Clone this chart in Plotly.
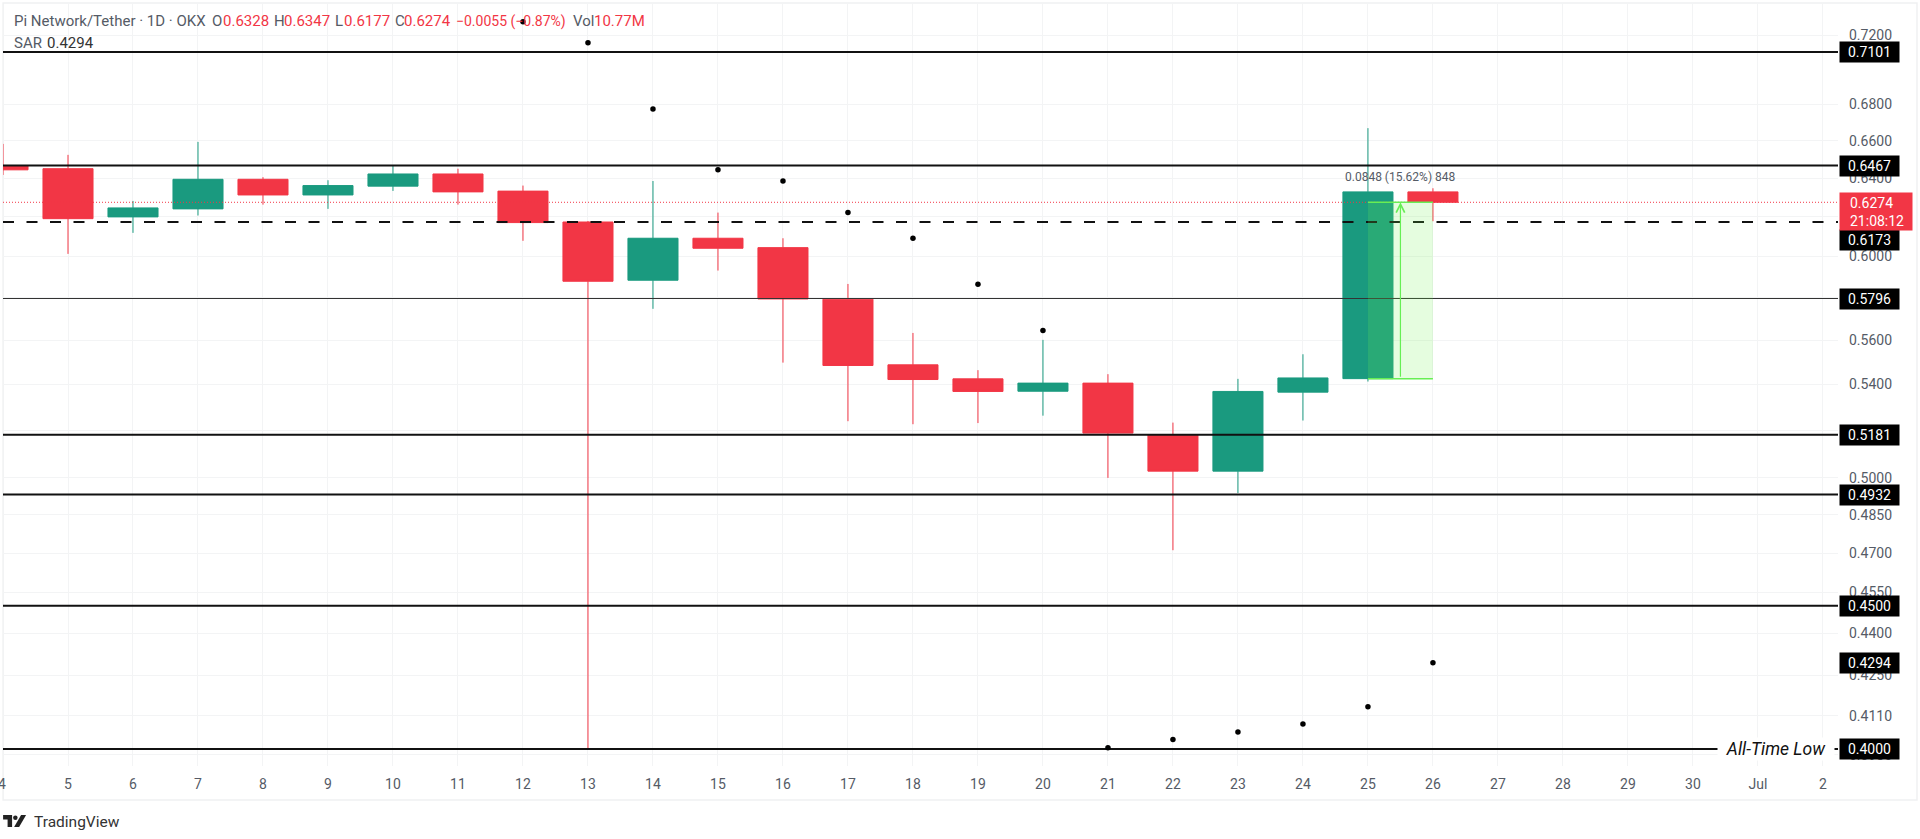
import math
import pandas as pd
import plotly.graph_objects as go

# daily candles, Jun 4 to Jun 26
dates = pd.date_range("2025-06-04", periods=23)
open_ = [.6467, .6450, .6199, .6240, .6394, .6312, .6358, .6422, .6332, .6173, .5884, .6091,
         .6044, .5793, .5488, .5425, .5370, .5406, .5180, .5028, .5366, .5426, .6328]
high = [.6583, .6524, .6281, .6594, .6405, .6389, .6465, .6450, .6361, .6178, .6385, .6221,
        .6091, .5866, .5634, .5464, .5602, .5446, .5233, .5425, .5536, .6669, .6347]
low = [.6417, .6013, .6118, .6206, .6262, .6240, .6333, .6262, .6078, .4000, .5747, .5931,
       .5498, .5239, .5226, .5231, .5263, .5000, .4711, .4938, .5242, .5413, .6177]
close = [.6444, .6190, .6245, .6394, .6312, .6361, .6422, .6328, .6170, .5879, .6091, .6041,
         .5794, .5485, .5422, .5369, .5406, .5188, .5028, .5369, .5429, .6328, .6274]

# parabolic SAR dots from Jun 12 onwards
sar_dates = dates[8:]
sar = [.7279, .7155, .6775, .6444, .6385, .6221, .6091, .5865, .5645, .4004, .4031, .4056, .4083, .4141, .4294]

thick_levels = [.7101, .6467, .5181, .4932, .4500, .4000]
thin_levels = [.5796]
dashed_levels = [.6173]
last_price = .6274
box_labels = [.7101, .6467, .5796, .5181, .4932, .4500, .4294, .4000]

# 0.62, 0.58 and 0.52 only give a gridline, their labels sit fully behind the price boxes
price_ticks = [.72, .68, .66, .64, .62, .60, .58, .56, .54, .52, .50, .485, .47, .455, .44, .425, .411, .398]
price_labels = ["0.7200", "0.6800", "0.6600", "0.6400", "", "0.6000", "", "0.5600", "0.5400",
                "", "0.5000", "0.4850", "0.4700", "0.4550", "0.4400", "0.4250", "0.4110", "0.3980"]
date_ticks = pd.date_range("2025-06-04", periods=29)
date_labels = [""] + [str(d) for d in range(5, 31)] + ["Jul", "2"]

pos_low, pos_high = .5426, .6274

RED = "#F23645"
GREEN = "#1A9A7F"
TOOL = "#66EE55"
GREY = "#555B66"
FONT = "Roboto"

W, H = 1920, 839
L, R, T, B = 2.9, 1838, 3, 766
x_range = ["2025-06-04 00:00", "2025-07-02 05:34"]
y_range = [math.log10(.3944), math.log10(.7393)]


# pixel to paper, for the things that sit outside the price scale
def px(x):
    return (x - L) / (R - L)


def py(y):
    return (B - y) / (B - T)


fig = go.Figure()

fig.add_trace(go.Candlestick(x=dates, open=open_, high=high, low=low, close=close,
                             increasing=dict(line=dict(color=GREEN, width=1), fillcolor=GREEN),
                             decreasing=dict(line=dict(color=RED, width=1), fillcolor=RED),
                             showlegend=False))

for lvl in thick_levels:
    fig.add_trace(go.Scatter(x=x_range, y=[lvl, lvl], mode="lines", line=dict(color="#111111", width=2),
                             showlegend=False))
for lvl in thin_levels:
    fig.add_trace(go.Scatter(x=x_range, y=[lvl, lvl], mode="lines", line=dict(color="#333333", width=1.2),
                             showlegend=False))
for lvl in dashed_levels:
    fig.add_trace(go.Scatter(x=x_range, y=[lvl, lvl], mode="lines",
                             line=dict(color="#111111", width=2, dash="11px,12.5px"), showlegend=False))

fig.add_trace(go.Scatter(x=x_range, y=[last_price, last_price], mode="lines",
                         line=dict(color=RED, width=1, dash="1px,2px"), showlegend=False))

fig.add_trace(go.Scatter(x=sar_dates, y=sar, mode="markers", marker=dict(color="#000000", size=5.5),
                         showlegend=False))

# long position tool
for lvl in [pos_low, pos_high]:
    fig.add_trace(go.Scatter(x=[dates[21], dates[22]], y=[lvl, lvl], mode="lines",
                             line=dict(color=TOOL, width=1.5), showlegend=False))
fig.add_shape(type="rect", x0=dates[21], x1=dates[22], y0=pos_low, y1=pos_high, xref="x", yref="y",
              fillcolor="rgba(110,245,80,0.18)", line_width=0, layer="above")

annotations = [
    # arrow of the position tool
    dict(x=dates[21] + pd.Timedelta(hours=12), y=math.log10(pos_high), xref="x", yref="y", text="",
         showarrow=True, axref="pixel", ayref="pixel", ax=0, ay=176, arrowhead=5, arrowsize=1.4,
         arrowwidth=1.2, arrowcolor=TOOL),
    dict(x=px(1400), y=py(176.5), xref="paper", yref="paper", xanchor="center", yanchor="middle",
         text="0.0848 (15.62%) 848", showarrow=False, font=dict(family=FONT, size=12, color=GREY)),
    # the label that breaks the all-time-low line
    dict(x=px(1776), y=math.log10(.40), xref="paper", yref="y", xanchor="center", yanchor="middle",
         text="<i>All-Time Low</i>", showarrow=False, width=114, bgcolor="#FFFFFF",
         font=dict(family=FONT, size=17.5, color="#111111")),
    # 0.6173 box sits pushed down under the last price box
    dict(x=px(1839), y=math.log10(.6173), xref="paper", yref="y", xanchor="left", yanchor="middle", yshift=-18,
         text="0.6173", showarrow=False, width=59, height=20, borderpad=0,
         bgcolor="#000000", font=dict(family=FONT, size=14, color="#FFFFFF")),
    # last price box with the countdown
    dict(x=px(1839), y=math.log10(last_price), xref="paper", yref="y", xanchor="left", yanchor="middle",
         yshift=-9.5, text=" ", showarrow=False, width=72, height=37, borderpad=0, bgcolor=RED),
    dict(x=px(1848.5), y=math.log10(last_price), xref="paper", yref="y", xanchor="left", yanchor="middle",
         yshift=-9.5, text="0.6274<br>21:08:12", showarrow=False, align="left",
         font=dict(family=FONT, size=14, color="#FFFFFF")),
    # the cut off first date label
    dict(x=px(2), y=py(784), xref="paper", yref="paper", xanchor="center", yanchor="middle", text="4",
         showarrow=False, font=dict(family=FONT, size=14, color=GREY)),
    dict(x=px(32), y=py(822), xref="paper", yref="paper", xanchor="left", yanchor="middle", text="TradingView",
         showarrow=False, font=dict(family=FONT, size=15.5, color="#333333")),
]

for val in box_labels:
    annotations.append(dict(x=px(1839), y=math.log10(val), xref="paper", yref="y", xanchor="left", yanchor="middle",
                            text=f"{val:.4f}", showarrow=False, width=59, height=20, borderpad=0,
                            bgcolor="#000000", font=dict(family=FONT, size=14, color="#FFFFFF")))

# legend line, each piece placed on its own like the original
header = [
    (12, "Pi Network/Tether · 1D · OKX", GREY, 15),
    (210, "O", GREY, 15), (221, "0.6328", RED, 15),
    (272, "H", GREY, 15), (282, "0.6347", RED, 15),
    (333, "L", GREY, 15), (342, "0.6177", RED, 15),
    (393, "C", GREY, 15), (402, "0.6274", RED, 15),
    (454, "−0.0055 (−0.87%)", RED, 14),
    (571, "Vol", GREY, 15), (592, "10.77M", RED, 15),
    (12, "SAR", GREY, 15), (45, "0.4294", "#333333", 15),
]
for i, (x, txt, col, size) in enumerate(header):
    annotations.append(dict(x=px(x), y=py(42.5 if i >= 12 else 21.5), xref="paper", yref="paper", xanchor="left",
                            yanchor="middle", text=txt, showarrow=False,
                            font=dict(family=FONT, size=size, color=col)))

# outer frame of the screenshot
fig.add_shape(type="rect", xref="paper", yref="paper", x0=px(3), x1=px(1917), y0=py(800), y1=py(3),
              line=dict(color="#F0F1F2", width=1.5), layer="below")

# TradingView mark
fig.add_shape(type="path", xref="paper", yref="paper", fillcolor="#222222", line_width=0,
              path=f"M {px(3)} {py(815)} L {px(12)} {py(815)} L {px(12)} {py(827)} L {px(7.5)} {py(827)} "
                   f"L {px(7.5)} {py(819.5)} L {px(3)} {py(819.5)} Z")
fig.add_shape(type="path", xref="paper", yref="paper", fillcolor="#222222", line_width=0,
              path=f"M {px(21)} {py(815)} L {px(26)} {py(815)} L {px(19)} {py(827)} L {px(14)} {py(827)} Z")
fig.add_shape(type="circle", xref="paper", yref="paper", fillcolor="#222222", line_width=0,
              x0=px(13), x1=px(17.5), y0=py(820), y1=py(815.5))

fig.update_layout(width=W, height=H, margin=dict(l=L, r=W - R, t=T, b=H - B, pad=0),
                  paper_bgcolor="#FFFFFF", plot_bgcolor="#FFFFFF", boxgap=0.23, boxgroupgap=0, showlegend=False,
                  annotations=annotations)
fig.update_xaxes(type="date", range=x_range, rangeslider_visible=False, tickmode="array", tickvals=date_ticks,
                 ticktext=date_labels, showgrid=True, gridcolor="#F3F4F5", gridwidth=1, zeroline=False,
                 showline=False, ticks="", ticklabelstandoff=8, tickfont=dict(family=FONT, size=14, color=GREY))
fig.update_yaxes(type="log", range=y_range, side="right", tickmode="array", tickvals=price_ticks,
                 ticktext=price_labels, showgrid=True, gridcolor="#F3F4F5", gridwidth=1, zeroline=False,
                 showline=False, ticks="", ticklabelstandoff=10, tickfont=dict(family=FONT, size=14, color=GREY))

fig.write_html("out.html", config={"displayModeBar": False},
               post_script="document.body.style.margin='0';document.body.style.overflow='hidden';")
